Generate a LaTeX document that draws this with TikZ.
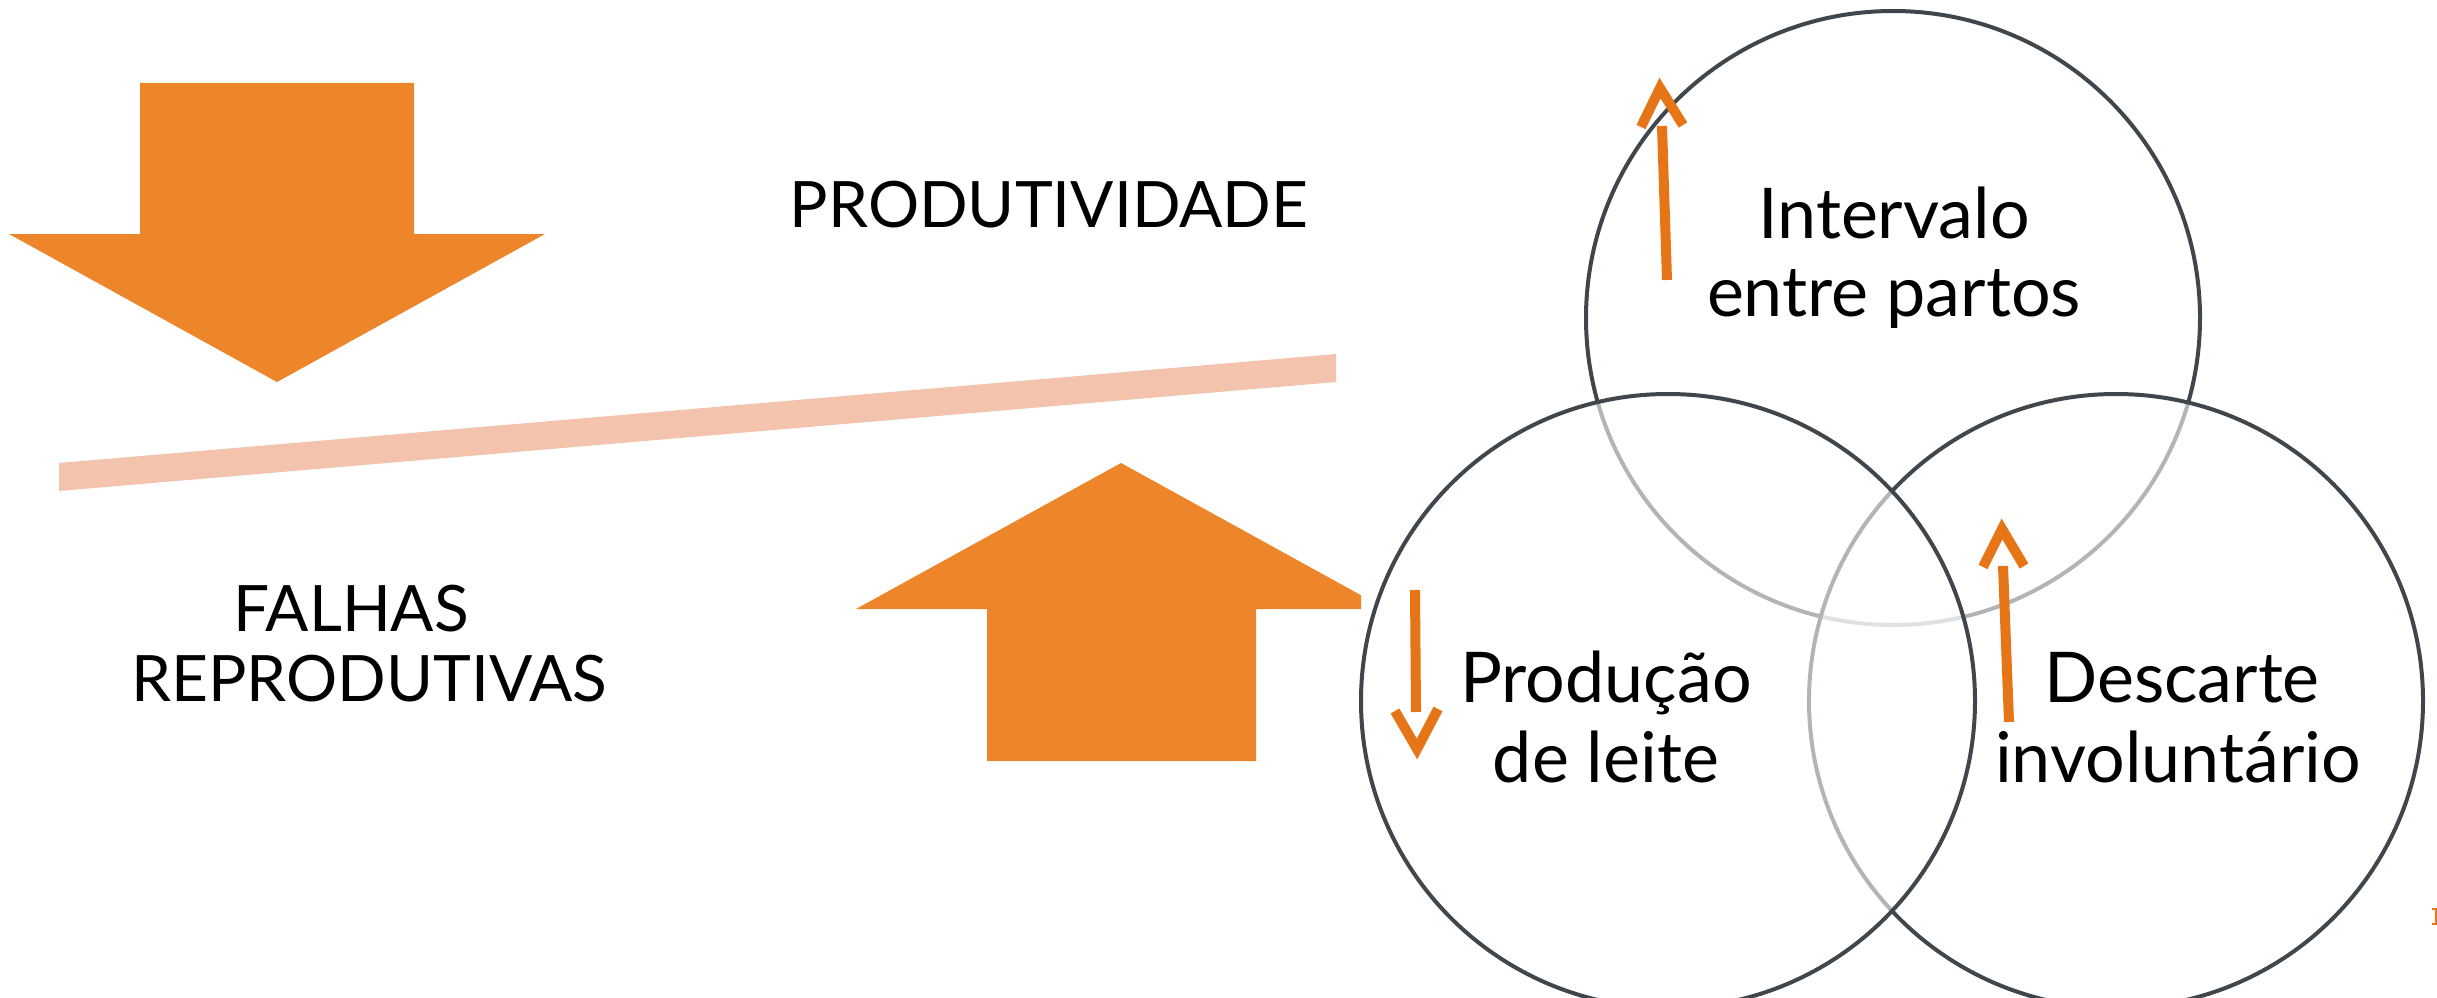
\documentclass[tikz,border=0pt]{standalone}
\usepackage{fontspec}
\setmainfont{Lato}
\definecolor{bigor}{HTML}{ED862A}
\definecolor{smor}{HTML}{E57517}
\definecolor{pinkbar}{HTML}{F4C3AD}
\definecolor{ring}{HTML}{3F474D}
\begin{document}
\begin{tikzpicture}[x=1pt,y=-1pt,
  venn/.style={circle, draw=ring, line width=4pt, fill=white, fill opacity=0.6, draw opacity=1, minimum size=614pt, inner sep=0pt},
  lbl/.style={font=\fontsize{64}{74}\selectfont, anchor=base, inner sep=0pt},
  clbl/.style={font=\fontsize{70}{80}\selectfont, anchor=base, inner sep=0pt},
  ind/.style={smor, line width=10pt, line cap=butt, line join=miter}]
\useasboundingbox (0,0) rectangle (2437,998);
% big down arrow
\fill[bigor] (140,83) -- (414,83) -- (414,234) -- (545,234) -- (277,382) -- (9,234) -- (140,234) -- cycle;
% pink bar
\fill[pinkbar] (59,463) -- (1336,354) -- (1336,382) -- (59,491) -- cycle;
% big up arrow (clipped)
\begin{scope}
\clip (0,0) rectangle (1361,998);
\fill[bigor] (1121,463) -- (1386,609) -- (1256,609) -- (1256,761) -- (987,761) -- (987,609) -- (856,609) -- cycle;
\end{scope}
% circles
\node[venn] (cT) at (1893,318) {};
\node[venn] (cR) at (2116,701) {};
\node[venn] (cL) at (1668,701) {};
% texts
\node[lbl] (prod) at (1049,227) {PRODUTIVIDADE};
\node[lbl] (fal1) at (351,631) {FALHAS};
\node[lbl] (fal2) at (369,701) {REPRODUTIVAS};
\node[clbl] (t1a) at (1894,238) {Intervalo};
\node[clbl] (t1b) at (1894,316) {entre partos};
\node[clbl] (t2a) at (1606,702) {Produção};
\node[clbl] (t2b) at (1606,782) {de leite};
\node[clbl] (t3a) at (2182,702) {Descarte};
\node[clbl] (t3b) at (2178,782) {involuntário};
% indicator arrows
\coordinate (a1s) at (1667,280); \coordinate (a1e) at (1662,126);
\draw[ind] (a1s) -- (a1e);
\draw[ind] (1641,127) -- (1660,88) -- (1683,125);
\coordinate (a2s) at (1415,590); \coordinate (a2e) at (1416,712);
\draw[ind] (a2s) -- (a2e);
\draw[ind] (1395,711) -- (1417,749) -- (1438,709);
\coordinate (a3s) at (2009,722); \coordinate (a3e) at (2003,566);
\draw[ind] (a3s) -- (a3e);
\draw[ind] (1983,567) -- (2002,529) -- (2024,566);
% small bracket at edge
\draw[smor, line width=2pt] (2432,909) -- (2436,909) -- (2436,924) -- (2432,924);
\end{tikzpicture}
\end{document}
